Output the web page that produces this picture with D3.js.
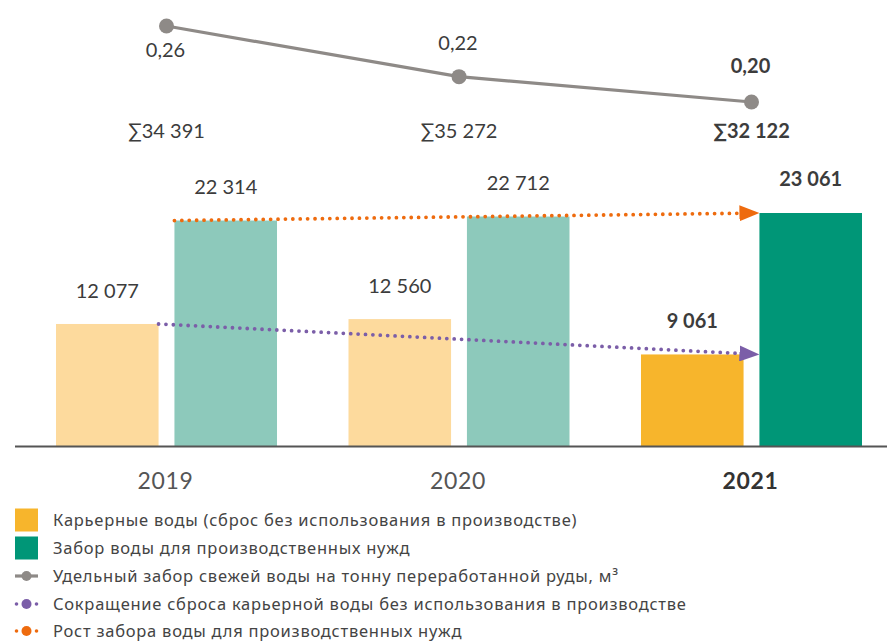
<!DOCTYPE html>
<html>
<head>
<meta charset="utf-8">
<script src="https://cdn.jsdelivr.net/npm/d3@7"></script>
<style>
  html, body { margin: 0; padding: 0; background: #fff; }
  svg { display: block; font-family: "Lato", "Noto Sans", sans-serif; }
</style>
</head>
<body>
<svg id="chart" width="887" height="643"></svg>
<script>
// Data
const years = ["2019", "2020", "2021"];
const quarryWater = [12077, 12560, 9061];      // карьерные воды
const intakeWater = [22314, 22712, 23061];     // забор воды для производственных нужд
const totals = ["∑34 391", "∑35 272", "∑32 122"];
const specificIntake = [0.26, 0.22, 0.20];     // м³ на тонну руды
const quarryLabels = ["12 077", "12 560", "9 061"];
const intakeLabels = ["22 314", "22 712", "23 061"];
const specificLabels = ["0,26", "0,22", "0,20"];
const seriesKeys = ["quarry", "intake"];
const legendItems = [
  "Карьерные воды (сброс без использования в производстве)",
  "Забор воды для производственных нужд",
  "Удельный забор свежей воды на тонну переработанной руды, м³",
  "Сокращение сброса карьерной воды без использования в производстве",
  "Рост забора воды для производственных нужд"
];

const colors = {
  quarryPast: "#fdda9d",
  quarryCur: "#f7b52c",
  intakePast: "#8dc9bb",
  intakeCur: "#009677",
  line: "#8e8a87",
  purple: "#7b5ea8",
  orange: "#ee6b0e",
  text: "#3c3c3c",
  axis: "#555555"
};

const svg = d3.select("#chart");
const baseY = 446;
const lastYear = years[years.length - 1];

// Scales
const x0 = d3.scaleBand().domain(years).range([20.9, 897.1])
  .paddingInner(0.2444).paddingOuter(0.12);
const x1 = d3.scaleBand().domain(seriesKeys).range([0, x0.bandwidth()])
  .paddingInner(0.134).paddingOuter(0);
const y = d3.scaleLinear().domain([0, 23061]).range([baseY, 213]);
const yLine = d3.scaleLinear().domain([0.20, 0.26]).range([102, 26]);

const rows = years.map((yr, i) => ({
  year: yr, quarry: quarryWater[i], intake: intakeWater[i],
  qLabel: quarryLabels[i], iLabel: intakeLabels[i],
  spec: specificIntake[i], sLabel: specificLabels[i], total: totals[i]
}));

// Bars
const groups = svg.append("g").selectAll("g").data(rows).join("g")
  .attr("transform", d => `translate(${x0(d.year)},0)`);

groups.append("rect")
  .attr("x", x1("quarry")).attr("width", x1.bandwidth())
  .attr("y", d => y(d.quarry)).attr("height", d => baseY - y(d.quarry))
  .attr("fill", d => d.year === lastYear ? colors.quarryCur : colors.quarryPast);

groups.append("rect")
  .attr("x", x1("intake")).attr("width", x1.bandwidth())
  .attr("y", d => y(d.intake)).attr("height", d => baseY - y(d.intake))
  .attr("fill", d => d.year === lastYear ? colors.intakeCur : colors.intakePast);

// Bar value labels
groups.append("text")
  .attr("x", x1("quarry") + x1.bandwidth() / 2)
  .attr("y", d => y(d.quarry) - 26)
  .attr("text-anchor", "middle").attr("font-size", 20)
  .attr("font-weight", d => d.year === lastYear ? 700 : 400)
  .attr("fill", colors.text).text(d => d.qLabel);

groups.append("text")
  .attr("x", x1("intake") + x1.bandwidth() / 2)
  .attr("y", d => y(d.intake) - 27)
  .attr("text-anchor", "middle").attr("font-size", 20)
  .attr("font-weight", d => d.year === lastYear ? 700 : 400)
  .attr("fill", colors.text).text(d => d.iLabel);

// Axis baseline and year labels
svg.append("line").attr("x1", 15).attr("x2", 887)
  .attr("y1", baseY + 0.5).attr("y2", baseY + 0.5)
  .attr("stroke", colors.axis).attr("stroke-width", 2);

svg.append("g").selectAll("text").data(rows).join("text")
  .attr("x", d => x0(d.year) + x0.bandwidth() / 2 - 1)
  .attr("y", 489).attr("text-anchor", "middle").attr("font-size", 23)
  .attr("letter-spacing", 0.6)
  .attr("font-weight", d => d.year === lastYear ? 700 : 400)
  .attr("fill", d => d.year === lastYear ? "#333" : "#555")
  .text(d => d.year);

// Trend arrows
const defs = svg.append("defs");
function arrowHead(id, color) {
  defs.append("marker").attr("id", id)
    .attr("viewBox", "0 0 20 16").attr("refX", 20).attr("refY", 8)
    .attr("markerWidth", 20).attr("markerHeight", 16)
    .attr("markerUnits", "userSpaceOnUse").attr("orient", "auto")
    .append("path").attr("d", "M0,0 L20,8 L0,16 Z").attr("fill", color);
}
arrowHead("arrOrange", colors.orange);
arrowHead("arrPurple", colors.purple);

const first = rows[0], last = rows[rows.length - 1];
const intakeLeft = yr => x0(yr) + x1("intake");
const quarryRight = yr => x0(yr) + x1("quarry") + x1.bandwidth();

function dottedArrow(xa, ya, xb, yb, color, marker) {
  const len = Math.hypot(xb - xa, yb - ya);
  const ux = (xb - xa) / len, uy = (yb - ya) / len;
  svg.append("line")
    .attr("x1", xa).attr("y1", ya)
    .attr("x2", xb - ux * 18).attr("y2", yb - uy * 18)
    .attr("stroke", color).attr("stroke-width", 3.8)
    .attr("stroke-linecap", "round").attr("stroke-dasharray", "0 7.4");
  svg.append("line")
    .attr("x1", xb - ux * 20).attr("y1", yb - uy * 20)
    .attr("x2", xb).attr("y2", yb)
    .attr("stroke", "none").attr("marker-end", `url(#${marker})`);
}
dottedArrow(intakeLeft(first.year), y(first.intake), intakeLeft(last.year), y(last.intake), colors.orange, "arrOrange");
dottedArrow(quarryRight(first.year), y(first.quarry), intakeLeft(last.year), y(last.quarry), colors.purple, "arrPurple");

// Specific intake line
const cx = d => x0(d.year) + x0.bandwidth() / 2;
const lineGen = d3.line().x(d => cx(d)).y(d => yLine(d.spec));
svg.append("path").datum(rows).attr("d", lineGen)
  .attr("fill", "none").attr("stroke", colors.line).attr("stroke-width", 3.2);
svg.append("g").selectAll("circle").data(rows).join("circle")
  .attr("cx", cx).attr("cy", d => yLine(d.spec)).attr("r", 7.5)
  .attr("fill", colors.line);

// Specific intake labels: first below the point, others above
const specOffset = [31, -27, -29];
svg.append("g").selectAll("text").data(rows).join("text")
  .attr("x", d => cx(d) - 1)
  .attr("y", (d, i) => yLine(d.spec) + specOffset[i])
  .attr("text-anchor", "middle").attr("font-size", 20)
  .attr("font-weight", d => d.year === lastYear ? 700 : 400)
  .attr("fill", colors.text).text(d => d.sLabel);

// Totals
svg.append("g").selectAll("text").data(rows).join("text")
  .attr("x", d => cx(d))
  .attr("y", 138).attr("text-anchor", "middle").attr("font-size", 20)
  .attr("font-weight", d => d.year === lastYear ? 700 : 400)
  .attr("fill", colors.text).text(d => d.total);

// Legend
const legend = svg.append("g").attr("transform", "translate(15,0)");
const rowY = [520, 548, 576, 604, 631];
const squareColors = [colors.quarryCur, colors.intakeCur];
legendItems.forEach((label, i) => {
  const g = legend.append("g").attr("transform", `translate(0,${rowY[i]})`);
  if (i < 2) {
    g.append("rect").attr("x", 0).attr("y", -11.5).attr("width", 23).attr("height", 23)
      .attr("fill", squareColors[i]);
  } else if (i === 2) {
    g.append("line").attr("x1", 0).attr("x2", 23).attr("y1", 0).attr("y2", 0)
      .attr("stroke", colors.line).attr("stroke-width", 3.2);
    g.append("circle").attr("cx", 11.5).attr("cy", 0).attr("r", 5).attr("fill", colors.line);
  } else {
    const c = i === 3 ? colors.purple : colors.orange;
    [1.5, 21.5].forEach(px => g.append("circle").attr("cx", px).attr("cy", 0).attr("r", 1.8).attr("fill", c));
    g.append("circle").attr("cx", 11.5).attr("cy", 0).attr("r", 5).attr("fill", c);
  }
  g.append("text").attr("x", 38).attr("y", 5.5)
    .attr("font-family", "'Noto Sans', sans-serif").attr("font-size", 16.5)
    .attr("letter-spacing", 0.75)
    .attr("fill", "#444").text(label);
});
</script>
</body>
</html>
